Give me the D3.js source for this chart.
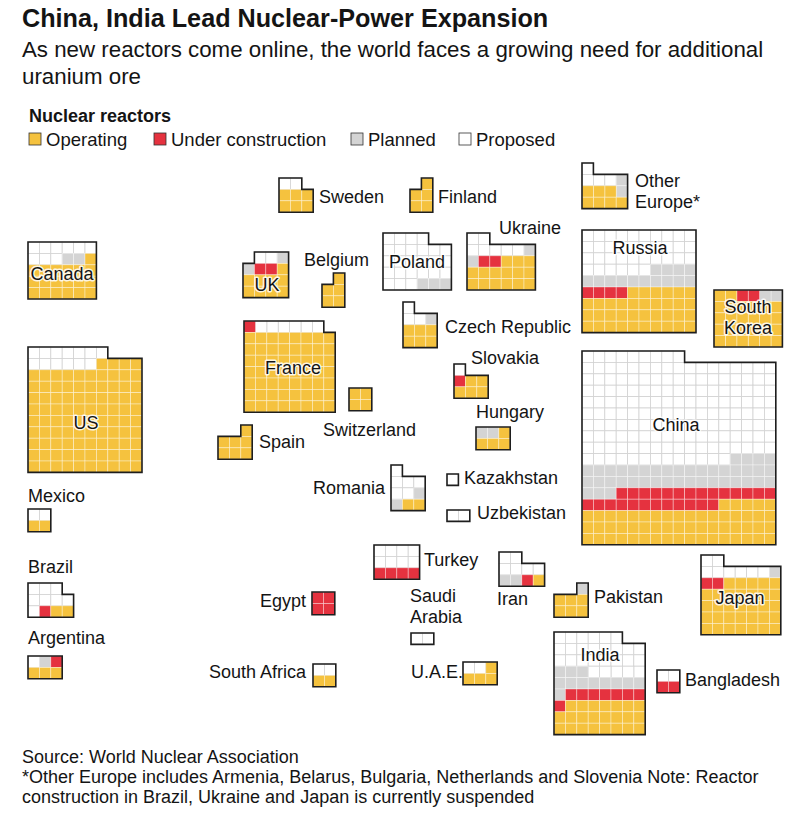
<!DOCTYPE html>
<html>
<head>
<meta charset="utf-8">
<script src="https://cdn.jsdelivr.net/npm/d3@7"></script>
<style>
  body { margin: 0; background: #fff; }
  svg text { font-family: "Liberation Sans", Arial, Helvetica, sans-serif; fill: #141414; }
</style>
</head>
<body>
<svg id="chart" width="802" height="818"></svg>
<script>
// Reactor counts per country (World Nuclear Association)
const countries = ['US', 'Canada', 'Mexico', 'Brazil', 'Argentina', 'Sweden', 'Finland', 'UK',
  'Belgium', 'France', 'Switzerland', 'Spain', 'Poland', 'Ukraine', 'Czech Republic', 'Slovakia',
  'Hungary', 'Romania', 'Kazakhstan', 'Uzbekistan', 'Turkey', 'Iran', 'Egypt', 'Saudi Arabia',
  'South Africa', 'U.A.E.', 'Other Europe*', 'Russia', 'South Korea', 'China', 'Pakistan', 'Japan',
  'India', 'Bangladesh'];
const operating =         [94, 19, 2, 2, 3, 6, 5, 9, 5, 56, 4, 7, 0, 15, 6, 5, 4, 2, 0, 0, 0, 1, 0, 0, 2, 4, 7, 36, 26, 56, 6, 33, 23, 0];
const underConstruction = [0, 0, 0, 1, 1, 0, 0, 2, 0, 1, 0, 0, 0, 2, 0, 1, 0, 0, 0, 0, 4, 1, 4, 0, 0, 0, 0, 4, 2, 26, 0, 2, 8, 2];
const planned =           [0, 2, 0, 0, 1, 0, 0, 2, 0, 0, 0, 0, 3, 2, 1, 0, 2, 2, 0, 0, 0, 2, 0, 0, 0, 0, 2, 14, 2, 41, 1, 1, 12, 0];
const proposed =          [13, 9, 2, 8, 1, 2, 0, 2, 0, 6, 0, 0, 25, 7, 3, 1, 0, 6, 1, 2, 8, 6, 0, 2, 2, 2, 4, 36, 0, 158, 0, 8, 27, 2];
const statuses = ['Operating', 'Under construction', 'Planned', 'Proposed'];

// Layout of the cartogram (grid width, top-row side, rows read right to left, box corner)
const gridCols =   [10, 6, 2, 4, 3, 3, 2, 4, 2, 8, 2, 3, 6, 6, 3, 3, 3, 3, 1, 2, 4, 4, 2, 2, 2, 3, 4, 10, 6, 17, 3, 7, 8, 2];
const topAlign =   ['L', 'L', 'L', 'L', 'L', 'L', 'R', 'R', 'R', 'L', 'L', 'R', 'L', 'L', 'L', 'L', 'L', 'L', 'L', 'L', 'L', 'L', 'L', 'L', 'L', 'L', 'L', 'L', 'L', 'L', 'R', 'L', 'L', 'L'];
const reversedRows = {France: [0], 'Other Europe*': [2], 'South Korea': [0, 1, 2, 3, 4], India: [3]};
const boxX = [28, 28, 28, 28, 28, 279, 410, 243, 322, 244, 349, 218, 383, 467, 403, 454, 476, 391, 447, 447, 374, 499, 312, 411, 313, 463, 582, 582, 714, 582, 554, 701, 554, 657];
const boxY = [347, 242, 509, 583, 656, 178, 178, 252, 273, 321, 388, 425, 233, 233, 302, 364, 427, 465, 474, 510, 545, 552, 592, 633, 664, 662, 163, 230, 290, 351, 583, 555, 632, 670];

// Country labels: lines, x, baseline y, anchor
const labelLines = [['US'], ['Canada'], ['Mexico'], ['Brazil'], ['Argentina'], ['Sweden'], ['Finland'], ['UK'],
  ['Belgium'], ['France'], ['Switzerland'], ['Spain'], ['Poland'], ['Ukraine'], ['Czech Republic'], ['Slovakia'],
  ['Hungary'], ['Romania'], ['Kazakhstan'], ['Uzbekistan'], ['Turkey'], ['Iran'], ['Egypt'], ['Saudi', 'Arabia'],
  ['South Africa'], ['U.A.E.'], ['Other', 'Europe*'], ['Russia'], ['South', 'Korea'], ['China'], ['Pakistan'], ['Japan'],
  ['India'], ['Bangladesh']];
const labelX = [86, 62, 28, 28, 28, 319, 438, 267, 304, 293, 323, 259, 417, 499, 445, 471, 476, 385, 464, 477, 424, 497, 306, 410, 306, 411, 635, 640, 748, 676, 594, 740, 600, 685];
const labelY = [429, 280, 502, 573, 644, 203, 203, 291, 266, 374, 436, 448, 268, 234, 333, 364, 418, 494, 484, 519, 566, 605, 607, 602, 678, 678, 187, 254, 313, 431, 603, 604, 661, 686];
const labelAnchor = ['middle', 'middle', 'start', 'start', 'start', 'start', 'start', 'middle', 'start', 'middle', 'start', 'start', 'middle', 'start', 'start', 'start',
  'start', 'end', 'start', 'start', 'start', 'start', 'end', 'start', 'end', 'start', 'start', 'middle', 'middle', 'middle', 'start', 'middle', 'middle', 'start'];

const svg = d3.select('#chart');
const unit = d3.scaleLinear().domain([0, 1]).range([0, 11.4]);
const color = d3.scaleOrdinal().domain(statuses).range(['#f5c23e', '#e5323f', '#d4d4d4', '#ffffff']);

// Title block
svg.append('text').attr('x', 22).attr('y', 27).attr('font-size', 25.2).attr('font-weight', 700)
  .text('China, India Lead Nuclear-Power Expansion');
svg.append('text').attr('x', 22).attr('y', 57).attr('font-size', 22.3)
  .text('As new reactors come online, the world faces a growing need for additional');
svg.append('text').attr('x', 22).attr('y', 84).attr('font-size', 22.3).text('uranium ore');

// Legend
svg.append('text').attr('x', 29).attr('y', 122).attr('font-size', 18).attr('font-weight', 700).text('Nuclear reactors');
const legendX = [29, 154, 351, 459];
const legend = svg.append('g').selectAll('g').data(statuses).join('g')
  .attr('transform', (d, i) => `translate(${legendX[i]},133)`);
legend.append('rect').attr('width', 12).attr('height', 12).attr('fill', d => color(d))
  .attr('stroke', '#333').attr('stroke-width', 0.8);
legend.append('text').attr('x', 17).attr('y', 13).attr('font-size', 18.5).text(d => d);

// Fill order: reading left to right, top to bottom -> proposed, planned, under construction, operating
function buildCells(i) {
  const counts = [proposed[i], planned[i], underConstruction[i], operating[i]];
  const order = ['Proposed', 'Planned', 'Under construction', 'Operating'];
  const seq = order.flatMap((k, j) => d3.range(counts[j]).map(() => k));
  const W = gridCols[i], n = seq.length, rows = Math.ceil(n / W), r = n % W;
  const flip = reversedRows[countries[i]] || [];
  const slots = [];
  for (let row = 0; row < rows; row++) {
    let cols = d3.range(W);
    if (row === 0 && r > 0) cols = topAlign[i] === 'R' ? d3.range(W - r, W) : d3.range(r);
    if (flip.includes(row)) cols.reverse();
    cols.forEach(c => slots.push({col: c, row}));
  }
  return slots.map((s, k) => ({...s, status: seq[k]}));
}

function outline(i) {
  const n = operating[i] + underConstruction[i] + planned[i] + proposed[i];
  const W = gridCols[i], rows = Math.ceil(n / W), r = n % W;
  const p = d3.path();
  if (r === 0) {
    p.rect(0, 0, unit(W), unit(rows));
  } else if (topAlign[i] === 'R') {
    p.moveTo(unit(W - r), 0); p.lineTo(unit(W), 0); p.lineTo(unit(W), unit(rows));
    p.lineTo(0, unit(rows)); p.lineTo(0, unit(1)); p.lineTo(unit(W - r), unit(1)); p.closePath();
  } else {
    p.moveTo(0, 0); p.lineTo(unit(r), 0); p.lineTo(unit(r), unit(1)); p.lineTo(unit(W), unit(1));
    p.lineTo(unit(W), unit(rows)); p.lineTo(0, unit(rows)); p.closePath();
  }
  return p.toString();
}

const map = svg.append('g');
countries.forEach((name, i) => {
  const g = map.append('g').attr('transform', `translate(${boxX[i]},${boxY[i]})`);
  const cells = buildCells(i).sort((a, b) => (b.status === 'Proposed') - (a.status === 'Proposed'));
  g.selectAll('rect').data(cells).join('rect')
    .attr('x', d => unit(d.col)).attr('y', d => unit(d.row))
    .attr('width', unit(1)).attr('height', unit(1))
    .attr('fill', d => color(d.status))
    .attr('stroke', d => d.status === 'Proposed' ? '#d2d2d2' : 'rgba(255,255,255,0.45)')
    .attr('stroke-width', 0.8);
  g.append('path').attr('d', outline(i)).attr('fill', 'none')
    .attr('stroke', '#1e1e1e').attr('stroke-width', 1.6).attr('stroke-linejoin', 'miter');
});

// Labels
const lab = svg.append('g');
countries.forEach((name, i) => {
  const t = lab.append('text').attr('x', labelX[i]).attr('y', labelY[i])
    .attr('font-size', 18).attr('text-anchor', labelAnchor[i]);
  if (labelAnchor[i] === 'middle') {
    t.attr('stroke', '#fff').attr('stroke-width', 3).attr('stroke-opacity', 0.85)
      .attr('paint-order', 'stroke').attr('stroke-linejoin', 'round');
  }
  labelLines[i].forEach((line, k) => {
    t.append('tspan').attr('x', labelX[i]).attr('dy', k === 0 ? 0 : 21).text(line);
  });
});

// Footer
const foot = ['Source: World Nuclear Association',
  '*Other Europe includes Armenia, Belarus, Bulgaria, Netherlands and Slovenia Note: Reactor',
  'construction in Brazil, Ukraine and Japan is currently suspended'];
svg.append('g').selectAll('text').data(foot).join('text')
  .attr('x', 22).attr('y', (d, i) => 763 + i * 20).attr('font-size', 18).text(d => d);
</script>
</body>
</html>
